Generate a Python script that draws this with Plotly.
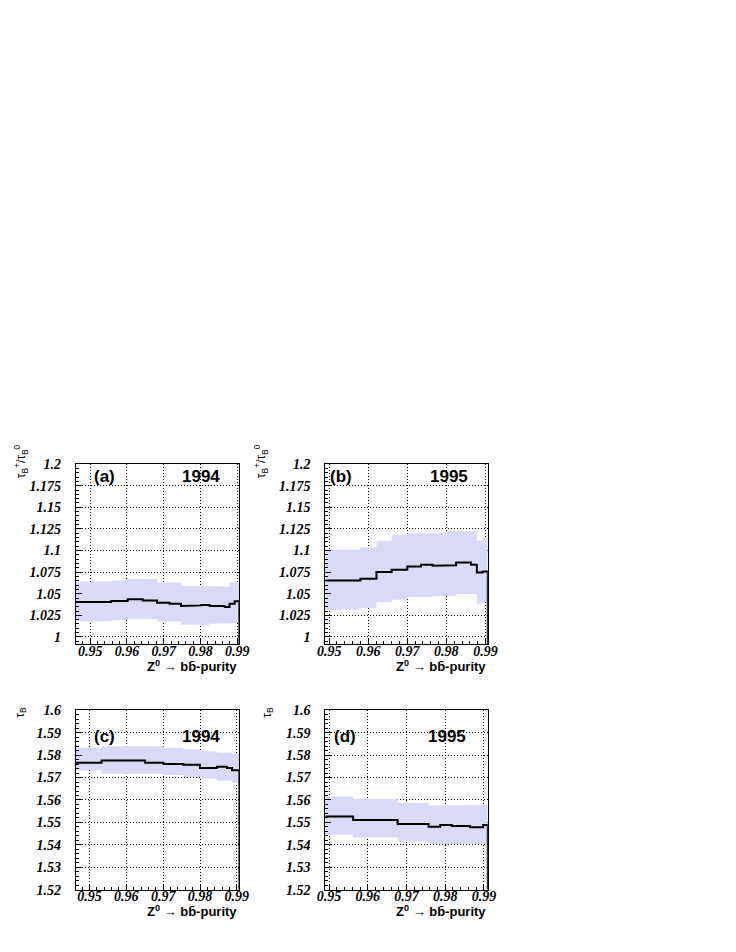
import plotly.graph_objects as go

# panel (a): 1994, tau(B+)/tau(B0) vs purity cut
edges_a = [0.9461, 0.9557, 0.9602, 0.9643, 0.9682, 0.9716, 0.9747, 0.9770,
           0.9802, 0.9825, 0.9866, 0.9879, 0.9893, 0.9906]
ratio_a = [1.0404, 1.0415, 1.0435, 1.0423, 1.0396, 1.0385, 1.0358, 1.0365,
           1.0370, 1.0358, 1.0346, 1.0385, 1.0412]
ratio_a_hi = [1.0642, 1.0654, 1.0669, 1.0669, 1.0631, 1.0631, 1.0592, 1.0592,
              1.0592, 1.0585, 1.0585, 1.0630, 1.0630]
ratio_a_lo = [1.0181, 1.0192, 1.0208, 1.0208, 1.0180, 1.0180, 1.0142, 1.0142,
              1.0142, 1.0154, 1.0162, 1.0162, 1.0162]

# panel (b): 1995
edges_b = [0.9490, 0.9580, 0.9621, 0.9660, 0.9700, 0.9735, 0.9765, 0.9799,
           0.9825, 0.9863, 0.9878, 0.9893, 0.9906]
ratio_b = [1.0654, 1.0673, 1.0750, 1.0777, 1.0815, 1.0835, 1.0823, 1.0830,
           1.0862, 1.0835, 1.0746, 1.0758]
ratio_b_hi = [1.1008, 1.1035, 1.1112, 1.1180, 1.1200, 1.1200, 1.1200, 1.1227,
              1.1227, 1.1220, 1.1112, 1.1142]
ratio_b_lo = [1.0316, 1.0335, 1.0400, 1.0431, 1.0461, 1.0461, 1.0470, 1.0477,
              1.0496, 1.0496, 1.0385, 1.0400]

# panel (c): 1994, tau_B
edges_c = [0.9463, 0.9533, 0.9651, 0.9701, 0.9755, 0.9800, 0.9846, 0.9873,
           0.9887, 0.9907]
tau_c = [1.5766, 1.5776, 1.5766, 1.5761, 1.5757, 1.5743, 1.5748, 1.5743, 1.5733]
tau_c_hi = [1.5833, 1.5840, 1.5840, 1.5833, 1.5825, 1.5818, 1.5811, 1.5811, 1.5806]
tau_c_lo = [1.5732, 1.5717, 1.5717, 1.5711, 1.5702, 1.5696, 1.5687, 1.5687, 1.5676]

# panel (d): 1995, tau_B
edges_d = [0.9490, 0.9562, 0.9677, 0.9757, 0.9787, 0.9817, 0.9864, 0.9898, 0.9910]
tau_d = [1.5526, 1.5511, 1.5493, 1.5481, 1.5488, 1.5484, 1.5478, 1.5488]
tau_d_hi = [1.5615, 1.5604, 1.5587, 1.5575, 1.5575, 1.5578, 1.5578, 1.5578]
tau_d_lo = [1.5445, 1.5433, 1.5414, 1.5403, 1.5403, 1.5403, 1.5403, 1.5403]

x_ticks = [0.95, 0.96, 0.97, 0.98, 0.99]
x_text = ["0.95", "0.96", "0.97", "0.98", "0.99"]
ratio_ticks = [1.0, 1.025, 1.05, 1.075, 1.1, 1.125, 1.15, 1.175, 1.2]
ratio_text = ["1", "1.025", "1.05", "1.075", "1.1", "1.125", "1.15", "1.175", "1.2"]
tau_ticks = [1.52, 1.53, 1.54, 1.55, 1.56, 1.57, 1.58, 1.59, 1.6]
tau_text = ["1.52", "1.53", "1.54", "1.55", "1.56", "1.57", "1.58", "1.59", "1.6"]

panels = [
    dict(edges=edges_a, val=ratio_a, hi=ratio_a_hi, lo=ratio_a_lo, tag="(a)", year="1994",
         xr=[0.9461, 0.9906], yr=[0.9915, 1.2], yt=ratio_ticks, ytt=ratio_text, ydt=0.005,
         xd=[0.0833, 0.3112], yd=[0.3284, 0.5207], tagx=0.10, yearx=0.895, laby=0.93),
    dict(edges=edges_b, val=ratio_b, hi=ratio_b_hi, lo=ratio_b_lo, tag="(b)", year="1995",
         xr=[0.9490, 0.9906], yr=[0.9915, 1.2], yt=ratio_ticks, ytt=ratio_text, ydt=0.005,
         xd=[0.4307, 0.6571], yd=[0.3284, 0.5207], tagx=0.015, yearx=0.89, laby=0.93),
    dict(edges=edges_c, val=tau_c, hi=tau_c_hi, lo=tau_c_lo, tag="(c)", year="1994",
         xr=[0.9463, 0.9907], yr=[1.52, 1.6], yt=tau_ticks, ytt=tau_text, ydt=0.002,
         xd=[0.0833, 0.3112], yd=[0.0666, 0.2579], tagx=0.10, yearx=0.895, laby=0.855),
    dict(edges=edges_d, val=tau_d, hi=tau_d_hi, lo=tau_d_lo, tag="(d)", year="1995",
         xr=[0.9490, 0.9910], yr=[1.52, 1.6], yt=tau_ticks, ytt=tau_text, ydt=0.002,
         xd=[0.4307, 0.6571], yd=[0.0666, 0.2579], tagx=0.04, yearx=0.877, laby=0.852),
]


def steps(edges, vals):
    xs, ys = [], []
    for i, v in enumerate(vals):
        xs += [edges[i], edges[i + 1]]
        ys += [v, v]
    return xs, ys


fig = go.Figure()
tickfont = dict(family="Liberation Serif, Times New Roman, serif", size=14, color="black",
                style="italic", weight="bold")

for i, p in enumerate(panels):
    n = "" if i == 0 else str(i + 1)
    xa, ya = "x" + n, "y" + n
    hx, hy = steps(p["edges"], p["hi"])
    lx, ly = steps(p["edges"], p["lo"])
    fig.add_trace(go.Scatter(x=hx + lx[::-1], y=hy + ly[::-1], fill="toself",
                             fillcolor="#d9d9fa", line=dict(width=0), mode="lines",
                             xaxis=xa, yaxis=ya, hoverinfo="skip"))
    sx, sy = steps(p["edges"], p["val"])
    # histogram outline drops to the axis at the right edge
    sx = sx + [p["edges"][-1]]
    sy = sy + [p["yr"][0]]
    fig.add_trace(go.Scatter(x=sx, y=sy, mode="lines", line=dict(color="black", width=2),
                             xaxis=xa, yaxis=ya))

    fig.update_layout({
        "xaxis" + n: dict(domain=p["xd"], range=p["xr"], anchor=ya,
                          tickvals=x_ticks, ticktext=x_text, tickfont=tickfont,
                          ticks="inside", ticklen=6, tickcolor="black",
                          minor=dict(dtick=0.002, tick0=0.95, ticks="inside", ticklen=3,
                                     tickcolor="black", showgrid=False),
                          showgrid=True, gridcolor="black", griddash="1px,2px", gridwidth=1,
                          showline=True, linecolor="black", linewidth=1, mirror=True,
                          zeroline=False, ticklabelstandoff=-6),
        "yaxis" + n: dict(domain=p["yd"], range=p["yr"], anchor=xa,
                          tickvals=p["yt"], ticktext=p["ytt"], tickfont=tickfont,
                          ticks="inside", ticklen=6, tickcolor="black",
                          minor=dict(dtick=p["ydt"], tick0=p["yt"][0], ticks="inside",
                                     ticklen=3, tickcolor="black", showgrid=False),
                          showgrid=True, gridcolor="black", griddash="1px,2px", gridwidth=1,
                          showline=True, linecolor="black", linewidth=1, mirror=True,
                          zeroline=False, ticklabelstandoff=11),
    })

    dom_x, dom_y = xa + " domain", ya + " domain"
    lab = dict(family="Liberation Sans", size=17, color="black", weight="bold")
    fig.add_annotation(x=p["tagx"], y=p["laby"], xref=dom_x, yref=dom_y, text=p["tag"],
                       showarrow=False, xanchor="left", yanchor="middle", font=lab)
    fig.add_annotation(x=p["yearx"], y=p["laby"], xref=dom_x, yref=dom_y, text=p["year"],
                       showarrow=False, xanchor="right", yanchor="middle", font=lab)
    fig.add_annotation(x=1.0, y=-0.118, xref=dom_x, yref=dom_y,
                       text="Z<sup>0</sup> \u2192 bb\u0304-purity", showarrow=False,
                       xanchor="right", yanchor="middle",
                       font=dict(family="Liberation Sans", size=13, color="black", weight="bold"))

ytitle_font = dict(family="Liberation Sans", size=12, color="black")
ratio_title = "\u03c4<sub>B</sub><sup>+</sup>/\u03c4<sub>B</sub><sup>0</sup>"
ytitles = [(0.0075, 0.5241, ratio_title), (0.3417, 0.5241, ratio_title),
           (0.0075, 0.2557, "\u03c4<sub>B</sub>"), (0.3515, 0.2557, "\u03c4<sub>B</sub>")]
for tx, ty, txt in ytitles:
    fig.add_annotation(x=tx, y=ty, xref="paper", yref="paper", textangle=-90, text=txt,
                       showarrow=False, xanchor="center", yanchor="middle", font=ytitle_font)

fig.update_layout(width=736, height=952, margin=dict(l=0, r=0, t=0, b=0),
                  paper_bgcolor="white", plot_bgcolor="white", showlegend=False)

fig.write_html("out.html")
